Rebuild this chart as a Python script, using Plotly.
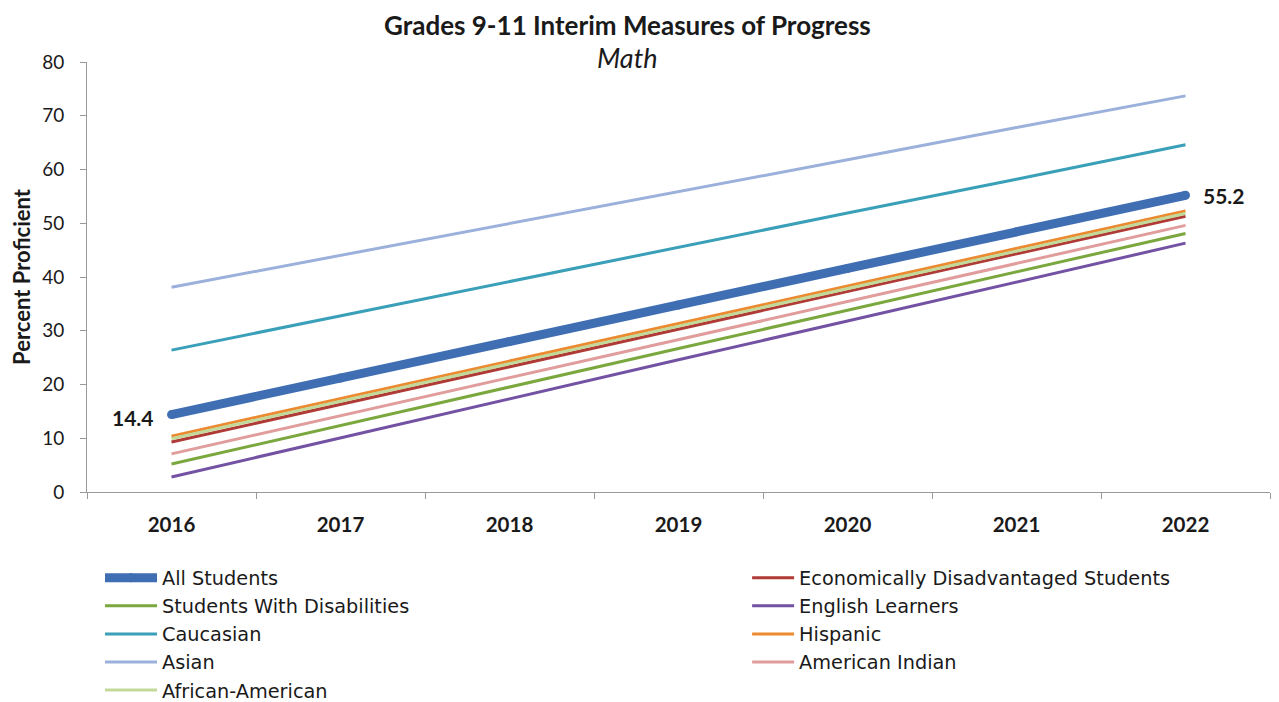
import plotly.graph_objects as go

years = ["2016", "2017", "2018", "2019", "2020", "2021", "2022"]

all_students = [14.4, 21.2, 28.0, 34.8, 41.6, 48.4, 55.2]
econ_disadv = [9.3, 16.3, 23.3, 30.3, 37.3, 44.3, 51.3]
swd = [5.2, 12.4, 19.5, 26.7, 33.8, 41.0, 48.1]
english_learners = [2.8, 10.1, 17.3, 24.6, 31.8, 39.1, 46.3]
caucasian = [26.4, 32.8, 39.1, 45.5, 51.9, 58.2, 64.6]
hispanic = [10.4, 17.4, 24.4, 31.4, 38.3, 45.3, 52.3]
asian = [38.1, 44.0, 50.0, 55.9, 61.8, 67.8, 73.7]
american_indian = [7.1, 14.2, 21.3, 28.4, 35.4, 42.5, 49.6]
african_american = [9.9, 16.9, 23.9, 30.9, 37.8, 44.8, 51.8]

# (name, values, color, width, legend column)
series = [
    ("Economically Disadvantaged Students", econ_disadv, "#B03A36", 3, "legend2"),
    ("Students With Disabilities", swd, "#7BA83E", 3, "legend"),
    ("English Learners", english_learners, "#7352A3", 3, "legend2"),
    ("Caucasian", caucasian, "#3A9FB8", 3, "legend"),
    ("Hispanic", hispanic, "#EC8A30", 3, "legend2"),
    ("Asian", asian, "#9BB1DB", 3, "legend"),
    ("American Indian", american_indian, "#E19C9C", 3, "legend2"),
    ("African-American", african_american, "#C2D99A", 3, "legend"),
]

fig = go.Figure()
for rank, (name, vals, color, width, leg) in enumerate(series):
    fig.add_trace(go.Scatter(x=years, y=vals, name=name, mode="lines",
                             line=dict(color=color, width=width),
                             legend=leg, legendrank=rank + 2))

fig.add_trace(go.Scatter(x=years, y=all_students, name="All Students", mode="lines+markers",
                         line=dict(color="#3F6EB3", width=9),
                         marker=dict(size=9, color="#3F6EB3"),
                         legend="legend", legendrank=1))

label_font = dict(size=21, color="#1a1a1a", family="Lato", weight="bold")
first_i, last_i = 0, len(years) - 1
annotations = [
    dict(text="<b>Grades 9-11 Interim Measures of Progress</b>", xref="paper", yref="paper",
         x=0.457, y=1, yanchor="middle", yshift=37, showarrow=False,
         font=dict(size=26, family="Lato")),
    dict(text="<i>Math</i>", xref="paper", yref="paper",
         x=0.457, y=1, yanchor="middle", yshift=5, showarrow=False,
         font=dict(size=27, family="Lato")),
    dict(text=f"{all_students[first_i]}", x=first_i, y=all_students[first_i], xref="x", yref="y",
         xanchor="right", yanchor="middle", xshift=-16, yshift=-3, showarrow=False, font=label_font),
    dict(text=f"{all_students[last_i]}", x=last_i, y=all_students[last_i], xref="x", yref="y",
         xanchor="left", yanchor="middle", xshift=15, showarrow=False, font=label_font),
]

legend_common = dict(orientation="v", y=-0.155, xanchor="left", yanchor="top",
                     traceorder="normal", bgcolor="rgba(0,0,0,0)",
                     font=dict(size=19.3, family="DejaVu Sans", color="#1a1a1a"))

# the page body adds an 8px offset; margins compensate for it
fig.update_layout(
    width=1279, height=702,
    paper_bgcolor="white", plot_bgcolor="white",
    margin=dict(l=79, r=17, t=54, b=218, autoexpand=False),
    font=dict(family="Lato", color="#1a1a1a", size=17),
    showlegend=True,
    legend=dict(x=0.011, itemwidth=52, **legend_common),
    legend2=dict(x=0.558, itemwidth=42, **legend_common),
    annotations=annotations,
)
fig.update_xaxes(type="category", tickson="boundaries", ticks="outside", ticklen=6,
                 tickcolor="#999", showline=True, linecolor="#999", linewidth=1,
                 showgrid=False, range=[-0.5, 6.5], ticklabelstandoff=14,
                 tickfont=dict(size=20.5, weight="bold"))
fig.update_yaxes(range=[0, 80], dtick=10, ticks="outside", ticklen=6, tickcolor="#999",
                 showline=True, linecolor="#999", linewidth=1, showgrid=False,
                 zeroline=False, tickfont=dict(size=19), ticklabelstandoff=12,
                 title=dict(text="<b>Percent Proficient</b>", font=dict(size=22), standoff=8))

fig.write_html("out.html")
